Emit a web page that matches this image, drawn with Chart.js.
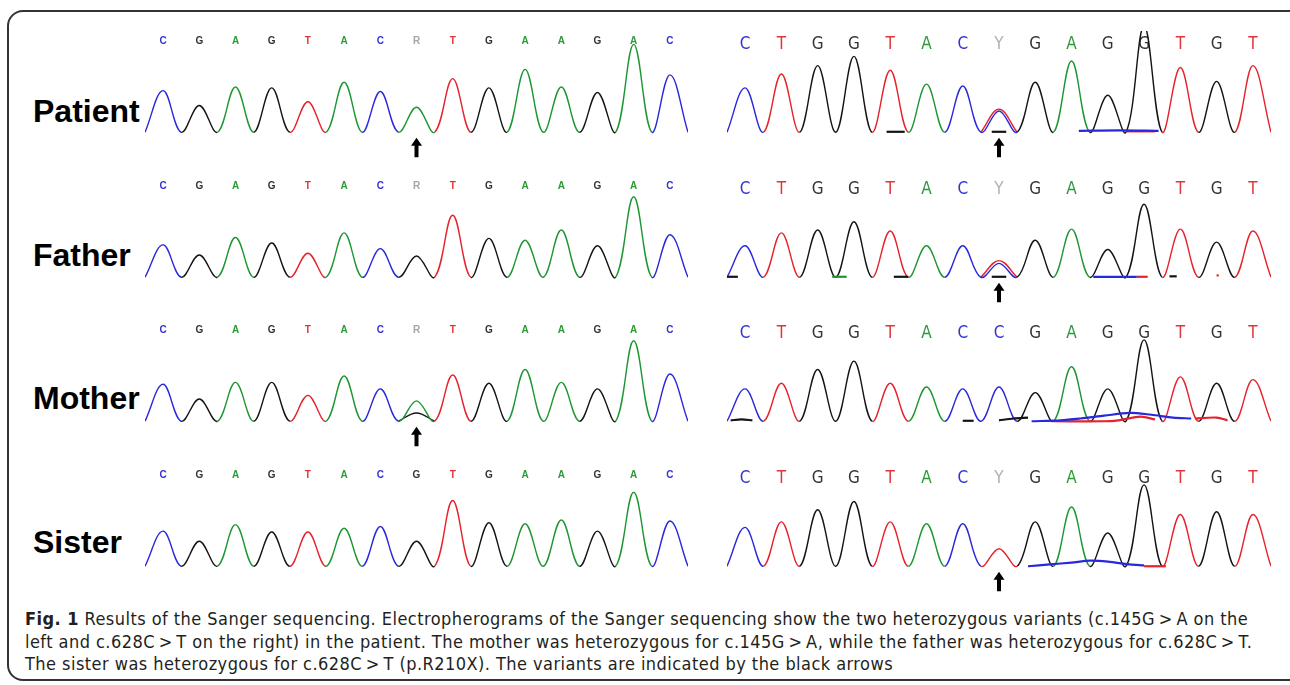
<!DOCTYPE html>
<html>
<head>
<meta charset="utf-8">
<title>Fig. 1 Sanger sequencing</title>
<script src="https://cdn.jsdelivr.net/npm/chart.js@4/dist/chart.umd.min.js"></script>
<style>
	body { margin: 0; background: #fff; width: 1290px; height: 685px; overflow: hidden; position: relative; font-family: "Liberation Sans", Arial, sans-serif; }
	#frame { position: absolute; left: 7px; top: 10px; width: 1300px; height: 671px; border: 2px solid #333; border-radius: 16px; box-sizing: border-box; }
	.who { position: absolute; left: 33px; font-weight: bold; font-size: 32px; line-height: 32px; color: #000; }
	canvas { position: absolute; }
	#caption { position: absolute; left: 25px; top: 608px; font-family: "DejaVu Sans Condensed", "DejaVu Sans", sans-serif; font-stretch: condensed; font-size: 18px; letter-spacing: 0.45px; line-height: 22.7px; color: #231f20; white-space: nowrap; }
	#caption b { font-weight: bold; }
</style>
</head>
<body>
<div id="frame"></div>

<div class="who" style="top:95px">Patient</div>
<div class="who" style="top:239px">Father</div>
<div class="who" style="top:382px">Mother</div>
<div class="who" style="top:526px">Sister</div>

<canvas id="patientLeft" width="543" height="129" style="left:145px; top:31px"></canvas>
<canvas id="patientRight" width="544" height="129" style="left:727px; top:31px"></canvas>
<canvas id="fatherLeft" width="543" height="129" style="left:145px; top:176px"></canvas>
<canvas id="fatherRight" width="544" height="129" style="left:727px; top:176px"></canvas>
<canvas id="motherLeft" width="543" height="129" style="left:145px; top:320px"></canvas>
<canvas id="motherRight" width="544" height="129" style="left:727px; top:320px"></canvas>
<canvas id="sisterLeft" width="543" height="129" style="left:145px; top:465px"></canvas>
<canvas id="sisterRight" width="544" height="129" style="left:727px; top:465px"></canvas>

<div id="caption">
	<div><b>Fig. 1</b> Results of the Sanger sequencing. Electropherograms of the Sanger sequencing show the two heterozygous variants (c.145G&thinsp;&gt;&thinsp;A on the</div>
	<div>left and c.628C&thinsp;&gt;&thinsp;T on the right) in the patient. The mother was heterozygous for c.145G&thinsp;&gt;&thinsp;A, while the father was heterozygous for c.628C&thinsp;&gt;&thinsp;T.</div>
	<div>The sister was heterozygous for c.628C&thinsp;&gt;&thinsp;T (p.R210X). The variants are indicated by the black arrows</div>
</div>

<script>
// Base calls printed above each trace
var leftCalls = 'CGAGTACRTGAAGAC'.split('');
var leftCallsSister = 'CGAGTACGTGAAGAC'.split('');
var rightCalls = 'CTGGTACYGAGGTGT'.split('');
var rightCallsMother = 'CTGGTACCGAGGTGT'.split('');

// Dye of the main peak under each call
var leftDyesPatient = 'CGAGTACATGAAGAC'.split('');
var leftDyesFather = 'CGAGTACGTGAAGAC'.split('');
var leftDyesMother = 'CGAGTACATGAAGAC'.split('');
var leftDyesSister = 'CGAGTACGTGAAGAC'.split('');
var rightDyesPatient = 'CTGGTACCGAGGTGT'.split('');
var rightDyesFather = 'CTGGTACCGAGGTGT'.split('');
var rightDyesMother = 'CTGGTACCGAGGTGT'.split('');
var rightDyesSister = 'CTGGTACTGAGGTGT'.split('');

// Peak heights (100 = height of the base call row)
var patientLeftPeaks = [45, 29, 49, 48, 33, 54, 44, 27, 58, 48, 68, 49, 43, 95, 62];
var fatherLeftPeaks  = [35, 24, 43, 37, 26, 48, 31, 23, 67, 42, 40, 51, 34, 87, 46];
var motherLeftPeaks  = [40, 24, 42, 42, 28, 49, 35, 22, 50, 41, 56, 42, 35, 87, 51];
var sisterLeftPeaks  = [38, 27, 45, 37, 37, 41, 43, 27, 71, 47, 46, 50, 38, 80, 49];
var patientRightPeaks = [48, 63, 72, 82, 67, 52, 50, 23, 54, 77, 40, 115, 70, 55, 72];
var fatherRightPeaks  = [34, 48, 51, 60, 50, 34, 34, 15, 40, 52, 30, 79, 52, 38, 50];
var motherRightPeaks  = [35, 41, 56, 65, 41, 37, 35, 37, 31, 59, 35, 88, 48, 41, 45];
var sisterRightPeaks  = [42, 48, 61, 70, 48, 46, 46, 19, 48, 64, 36, 88, 56, 59, 56];

// Second (minor) peak at the heterozygous site: [call index, dye, height]
var patientLeftMinor = [];
var motherLeftMinor = [[7, 'G', 9]];
var patientRightMinor = [[7, 'T', 25]];
var fatherRightMinor = [[7, 'T', 18]];

// Low signal near the baseline: dye and [call position, height] pairs
var patientRightBaseline = [
	['G', [[3.9, 0.5], [4.4, 0.5]]],
	['G', [[6.8, 0.5], [7.2, 0.5]]],
	['C', [[9.2, 1.5], [10.3, 2], [11.4, 1.5]]],
	['T', [[10.5, 1], [11.3, 1]]]
];
var fatherRightBaseline = [
	['G', [[-0.5, 0.5], [-0.2, 0.5]]],
	['A', [[2.4, 0.5], [2.8, 0.5]]],
	['G', [[4.1, 0.5], [4.5, 0.5]]],
	['G', [[6.8, 0.5], [7.2, 0.5]]],
	['C', [[9.6, 0.5], [10.8, 0.5]]],
	['T', [[10.8, 0.5], [11.1, 0.5]]],
	['G', [[11.7, 1], [11.9, 1]]],
	['T', [[13, 2], [13.06, 2]]]
];
var motherRightBaseline = [
	['G', [[-0.4, 1], [-0.1, 2], [0.2, 1]]],
	['G', [[6.0, 0.5], [6.3, 0.5]]],
	['G', [[7.0, 1], [7.4, 3], [7.8, 4]]],
	['C', [[7.9, 0], [8.7, 1], [9.25, 3], [9.9, 6], [10.6, 9], [11.2, 7], [11.8, 4], [12.3, 3]]],
	['T', [[8.5, 0], [9.9, 0], [10.3, 1], [10.9, 5], [11.3, 2]]],
	['T', [[12.4, 3], [13.0, 4], [13.3, 1]]]
];
var sisterRightBaseline = [
	['C', [[7.8, 0], [8.4, 2], [9.0, 4], [9.5, 6], [10.0, 5], [10.6, 2], [11.0, 1]]],
	['T', [[11.0, 0], [11.6, 0]]]
];

var dyeColour = { A: '#1d9631', C: '#2828dc', G: '#141414', T: '#e6222a' };
var callColour = { A: '#2c9a36', C: '#3434d2', G: '#333333', T: '#e0363a', R: '#a6a6a6', Y: '#b2b2b2' };

// Trace as valley - peak - valley points, one peak per call
function tracePoints(heights) {
	var pts = [];
	for (var i = 0; i < heights.length; i++) {
		pts.push({ x: i - 0.5, y: 0 });
		pts.push({ x: i, y: heights[i] });
	}
	pts.push({ x: heights.length - 0.5, y: 0 });
	return pts;
}

// Black arrow under the variant
var arrowPlugin = {
	id: 'variantArrow',
	afterDatasetsDraw: function (chart, args, opts) {
		if (opts.site === undefined || opts.site === null) return;
		var ctx = chart.ctx;
		var x = chart.scales.x.getPixelForValue(opts.site);
		var tip = chart.scales.y.getPixelForValue(-6);
		var end = chart.scales.y.getPixelForValue(-27);
		ctx.save();
		ctx.fillStyle = '#000';
		ctx.beginPath();
		ctx.moveTo(x, tip);
		ctx.lineTo(x + 5.5, tip + 8);
		ctx.lineTo(x + 2, tip + 8);
		ctx.lineTo(x + 2, end);
		ctx.lineTo(x - 2, end);
		ctx.lineTo(x - 2, tip + 8);
		ctx.lineTo(x - 5.5, tip + 8);
		ctx.closePath();
		ctx.fill();
		ctx.restore();
	}
};

function drawPanel(id, calls, dyes, peaks, minor, baseline, site, big) {
	var datasets = [];

	// Baseline noise goes underneath
	for (var b = 0; b < baseline.length; b++) {
		datasets.push({
			data: baseline[b][1].map(function (p) { return { x: p[0], y: p[1] }; }),
			borderColor: dyeColour[baseline[b][0]],
			borderWidth: 2.2,
			tension: 0.3,
			pointRadius: 0,
			clip: false
		});
	}

	datasets.push({
		data: tracePoints(peaks),
		borderWidth: 1.4,
		tension: 0.38,
		pointRadius: 0,
		clip: false,
		segment: {
			borderColor: function (ctx) { return dyeColour[dyes[Math.floor(ctx.p0DataIndex / 2)]]; }
		}
	});

	for (var m = 0; m < minor.length; m++) {
		var k = minor[m][0];
		datasets.push({
			data: [{ x: k - 0.5, y: 0 }, { x: k, y: minor[m][2] }, { x: k + 0.5, y: 0 }],
			borderColor: dyeColour[minor[m][1]],
			borderWidth: 1.4,
			tension: 0.38,
			pointRadius: 0,
			clip: false
		});
	}

	new Chart(document.getElementById(id), {
		type: 'line',
		data: { datasets: datasets },
		options: {
			responsive: false,
			animation: false,
			events: [],
			layout: { padding: 0 },
			plugins: {
				legend: { display: false },
				tooltip: { enabled: false },
				variantArrow: { site: site }
			},
			scales: {
				x: {
					type: 'linear',
					position: 'top',
					min: -0.5,
					max: calls.length - 0.5,
					grid: { display: false, drawTicks: false },
					border: { display: false },
					afterBuildTicks: function (axis) {
						axis.ticks = calls.map(function (c, i) { return { value: i }; });
					},
					afterFit: function (axis) { axis.height = 18; },
					ticks: {
						autoSkip: false,
						maxRotation: 0,
						padding: big ? -6 : 2,
						font: big ? { family: '"DejaVu Sans Condensed", "DejaVu Sans", sans-serif', size: 17 }
						          : { family: '"Liberation Sans", Arial, sans-serif', size: 10, weight: 'bold' },
						color: function (ctx) { return callColour[calls[ctx.index]]; },
						callback: function (v, i) { return calls[i]; }
					}
				},
				y: { display: false, min: -30, max: 90 }
			}
		},
		plugins: [arrowPlugin]
	});
}

drawPanel('patientLeft', leftCalls, leftDyesPatient, patientLeftPeaks, patientLeftMinor, [], 7, false);
drawPanel('fatherLeft', leftCalls, leftDyesFather, fatherLeftPeaks, [], [], null, false);
drawPanel('motherLeft', leftCalls, leftDyesMother, motherLeftPeaks, motherLeftMinor, [], 7, false);
drawPanel('sisterLeft', leftCallsSister, leftDyesSister, sisterLeftPeaks, [], [], null, false);
drawPanel('patientRight', rightCalls, rightDyesPatient, patientRightPeaks, patientRightMinor, patientRightBaseline, 7, true);
drawPanel('fatherRight', rightCalls, rightDyesFather, fatherRightPeaks, fatherRightMinor, fatherRightBaseline, 7, true);
drawPanel('motherRight', rightCallsMother, rightDyesMother, motherRightPeaks, [], motherRightBaseline, null, true);
drawPanel('sisterRight', rightCalls, rightDyesSister, sisterRightPeaks, [], sisterRightBaseline, 7, true);
</script>
</body>
</html>
